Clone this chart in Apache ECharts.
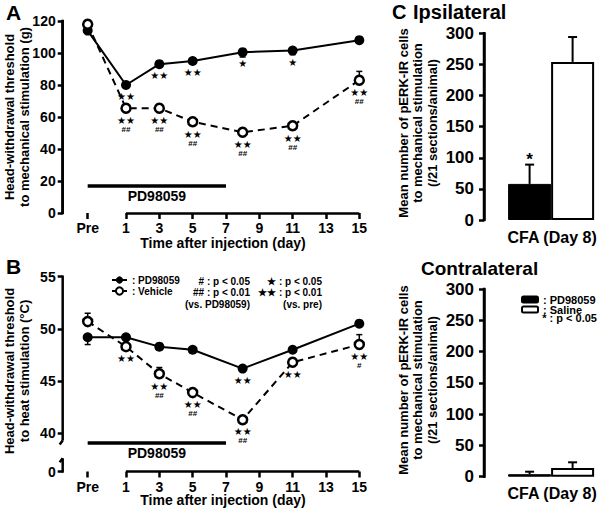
<!DOCTYPE html>
<html><head><meta charset="utf-8">
<script src="https://cdn.jsdelivr.net/npm/echarts@6/dist/echarts.min.js"></script>
<style>html,body{margin:0;padding:0;background:#fff}#c{width:600px;height:509px}</style>
</head><body><div id="c"></div>
<script>
// ---------- data ----------
const PRE = -1.3;                       // x position used for the "Pre" time point
const days = [PRE, 1, 3, 5, 8, 11, 15];
const dayTicks = [PRE, 1, 3, 5, 7, 9, 11, 13, 15];
const yAxisAt = -2.8;                   // x value where the y axis is drawn
const xMin = -3.561, xMax = 15;
const treatmentSpan = [PRE, 7];

const mechPD = [114, 80, 93, 95, 100.5, 101.5, 108];
const mechVeh = [118, 65.5, 65.5, 57, 50.5, 54.5, 83];
const mechPDErr = [1.5, 1.5, 1.5, 1.5, 3, 2.5, 1];
const mechVehErr = [1, 1.5, 1.5, 2, 1, 1, 5.5];
const mechPDSig = ['', '**', '**', '**', '*', '*', ''];
const mechVehSig = ['', '**|##', '**|##', '**|##', '**|##', '**|##', '**|##'];
const mechYTicks = [0, 20, 40, 60, 80, 100, 120];
const mechTreatLevel = 17;

const heatPD = [49.2, 49.2, 48.3, 48.0, 46.2, 48.0, 50.5];
const heatVeh = [50.7, 48.3, 45.7, 43.9, 41.3, 46.8, 48.5];
const heatPDErr = [0.7, 0.3, 0.2, 0.3, 0.3, 0.2, 0.2];
const heatVehErr = [0.8, 0.3, 0.6, 0.3, 0.3, 0.3, 0.95];
const heatPDSig = ['', '', '', '', '**', '', ''];
const heatVehSig = ['', '**', '**|##', '**|##', '**|##', '**', '**|#'];
const heatYMin = 36.34;                 // position of the "0" tick below the axis break
const heatYTicks = [heatYMin, 40, 45, 50, 55];
const heatBreak = [37.6, 39.3];
const heatTreatLevel = 39.05;

const barCats = ['CFA (Day 8)'];
const barYTicks = [0, 50, 100, 150, 200, 250, 300];
const ipsiPD = [58], ipsiPDErr = [31], ipsiPDSig = ['*'];
const ipsiSal = [254], ipsiSalErr = [40], ipsiSalSig = [''];
const contraPD = [4], contraPDErr = [4], contraPDSig = [''];
const contraSal = [14], contraSalErr = [9], contraSalSig = [''];

// ---------- helpers ----------
const FONT = 'Liberation Sans';
const chart = echarts.init(document.getElementById('c'), null, {renderer: 'svg'});

function sigFormatter(sig) {
  return p => {
    const s = sig[p.dataIndex];
    if (!s) return '';
    const parts = s.split('|');
    let out = '{s|' + parts[0].replace(/\*/g, '\u2605') + '}';
    if (parts[1]) out += '\n{h|' + parts[1] + '}';
    return out;
  };
}
const sigRich = {
  s: {fontSize: 10, lineHeight: 9, fontFamily: 'DejaVu Sans', color: '#000'},
  h: {fontSize: 8, lineHeight: 9, fontWeight: 'bold', fontFamily: FONT, color: '#000'}
};

function lineSeries(name, gi, vals, sig, open) {
  return {
    name, type: 'line', xAxisIndex: gi, yAxisIndex: gi, z: 5,
    data: days.map((d, i) => [d, vals[i]]),
    symbol: 'circle', symbolSize: open ? 9 : 10, clip: false,
    itemStyle: open ? {color: '#fff', borderColor: '#000', borderWidth: 2.5} : {color: '#000', borderColor: '#000', borderWidth: 0},
    lineStyle: open ? {color: '#000', width: 2, type: [7, 5]} : {color: '#000', width: 2},
    label: {show: true, position: 'bottom', distance: 2, formatter: sigFormatter(sig), rich: sigRich, lineHeight: 9},
    emphasis: {disabled: true}, animation: false
  };
}

function errSeries(gi, vals, errs, dir) {
  return {
    type: 'custom', xAxisIndex: gi, yAxisIndex: gi, clip: false, silent: true, z: 3,
    data: days.map((d, i) => [d, vals[i], errs[i]]),
    renderItem(params, api) {
      const x = api.value(0), y = api.value(1), e = api.value(2);
      const p0 = api.coord([x, y]), p1 = api.coord([x, y + dir * e]);
      return {type: 'group', children: [
        {type: 'line', shape: {x1: p0[0], y1: p0[1], x2: p1[0], y2: p1[1]}, style: {stroke: '#000', lineWidth: 1.5}},
        {type: 'line', shape: {x1: p1[0] - 3, y1: p1[1], x2: p1[0] + 3, y2: p1[1]}, style: {stroke: '#000', lineWidth: 1.5}}
      ]};
    }
  };
}

function decoSeries(gi, yBase, treatLevel) {
  return {
    type: 'line', xAxisIndex: gi, yAxisIndex: gi, data: [], clip: false, silent: true, z: 4,
    markLine: {
      silent: true, symbol: ['none', 'none'], animation: false,
      data: [
        [{coord: [1, yBase], lineStyle: {color: '#000', width: 2.5, type: 'solid'}, label: {show: false}},
         {coord: [xMax, yBase]}],
        [{coord: [treatmentSpan[0], treatLevel], lineStyle: {color: '#000', width: 3.5, type: 'solid'},
          label: {show: true, position: 'insideMiddleBottom', formatter: 'PD98059', distance: 3,
                  fontSize: 14, fontWeight: 'bold', fontFamily: FONT, color: '#000'}},
         {coord: [treatmentSpan[1], treatLevel]}]
      ]
    }
  };
}

function vBar(x, y1, y2) {
  return {type: 'rect', shape: {x: x - 1.25, y: Math.min(y1, y2), width: 2.5, height: Math.abs(y2 - y1)},
    style: {fill: '#000', stroke: null}};
}

// y-axis line inside the line-chart grids (broken for the heat panel), drawn as thin filled bars
function yLineSeries(gi, yLo, yHi, breakVals) {
  return {
    type: 'custom', xAxisIndex: gi, yAxisIndex: gi, z: 10, clip: false, silent: true,
    data: [[yAxisAt, yLo]],
    renderItem(params, api) {
      const pTop = api.coord([yAxisAt, yHi]), pBot = api.coord([yAxisAt, yLo]);
      const x = pTop[0];
      const st = {stroke: '#000', lineWidth: 2.5};
      if (!breakVals) {
        return {type: 'group', children: [vBar(x, pTop[1] - 1.2, pBot[1] + 1.2)]};
      }
      const yb0 = api.coord([yAxisAt, breakVals[0]])[1];
      const yb1 = api.coord([yAxisAt, breakVals[1]])[1];
      return {type: 'group', children: [
        vBar(x, pTop[1] - 1.2, yb1),
        {type: 'line', shape: {x1: x, y1: yb1, x2: x - 3, y2: yb1 + 4}, style: st},
        {type: 'line', shape: {x1: x, y1: yb0, x2: x - 3, y2: yb0 + 4}, style: st},
        vBar(x, yb0, pBot[1] + 1.2)
      ]};
    }
  };
}

// y-axis line for the bar grids, 10px inside the grid's left edge
function barYLineSeries(gi) {
  return {
    type: 'custom', xAxisIndex: gi, yAxisIndex: gi, z: 10, clip: false, silent: true,
    data: [[0, 0]],
    renderItem(params, api) {
      const cs = params.coordSys;
      const top = api.coord([0, 300])[1], bot = api.coord([0, 0])[1];
      return {type: 'group', children: [vBar(cs.x + 10, top - 1.2, bot + 1.2)]};
    }
  };
}

function barErrSeries(gi, vals, errs, sig, offset) {
  return {
    type: 'custom', xAxisIndex: gi, yAxisIndex: gi, clip: false, silent: true, z: 1,
    data: vals.map((v, i) => [i, v, errs[i]]),
    renderItem(params, api) {
      const i = api.value(0), v = api.value(1), e = api.value(2);
      const p0 = api.coord([i, v]), p1 = api.coord([i, v + e]);
      const x = p0[0] + offset;
      const ch = [
        {type: 'line', shape: {x1: x, y1: p0[1], x2: x, y2: p1[1]}, style: {stroke: '#000', lineWidth: 2}},
        {type: 'line', shape: {x1: x - 4.5, y1: p1[1], x2: x + 4.5, y2: p1[1]}, style: {stroke: '#000', lineWidth: 2}}
      ];
      if (sig[params.dataIndex]) ch.push({type: 'text', style: {text: sig[params.dataIndex], x: x, y: p1[1] + 3,
        align: 'center', verticalAlign: 'bottom', font: 'bold 17px ' + FONT, fill: '#000'}});
      return {type: 'group', children: ch};
    }
  };
}

function lineXAxis(gi) {
  return {
    gridIndex: gi, type: 'value', min: xMin, max: xMax,
    axisLine: {show: false, onZero: false}, splitLine: {show: false},
    axisTick: {show: true, customValues: dayTicks, length: 6, inside: false, lineStyle: {color: '#000', width: 2.5}},
    axisLabel: {customValues: dayTicks, margin: 8, fontSize: 14, fontWeight: 'bold', fontFamily: FONT, color: '#000',
      formatter: v => (v < 0 ? 'Pre' : String(Math.round(v)))}
  };
}

function barXAxis(gi) {
  return {gridIndex: gi, type: 'category', data: barCats, axisLine: {show: false, onZero: false}, axisTick: {show: false},
    splitLine: {show: false},
    axisLabel: {margin: 9, fontSize: 16, fontWeight: 'bold', fontFamily: FONT, color: '#000', padding: [0, 0, 0, 32]}};
}

function yAxisDef(gi, extra) {
  return Object.assign({
    gridIndex: gi, type: 'value', splitLine: {show: false},
    axisLine: {show: true, onZero: false, lineStyle: {color: '#000', width: 2.5}},
    axisTick: {show: true, length: 5, lineStyle: {color: '#000', width: 2.5}}
  }, extra);
}

function spacer(gi) {
  return {type: 'bar', xAxisIndex: gi, yAxisIndex: gi, data: [0], barWidth: 30, barGap: '0%', silent: true,
    itemStyle: {color: 'rgba(0,0,0,0)', borderWidth: 0}, label: {show: false}};
}

const option = {
  animation: false,
  textStyle: {fontFamily: FONT, fontWeight: 'bold', color: '#000'},
  title: [
    {text: 'A', left: 6, top: 2, padding: 0, textStyle: {fontSize: 21, fontWeight: 'bold', fontFamily: FONT, color: '#000'}},
    {text: 'B', left: 6, top: 256, padding: 0, textStyle: {fontSize: 21, fontWeight: 'bold', fontFamily: FONT, color: '#000'}},
    {text: 'C', left: 392, top: 2, padding: 0, textStyle: {fontSize: 20, fontWeight: 'bold', fontFamily: FONT, color: '#000'}},
    {text: 'Ipsilateral', left: 413, top: 2, padding: 0, textStyle: {fontSize: 20, fontWeight: 'bold', fontFamily: FONT, color: '#000'}},
    {text: 'Contralateral', left: 421, top: 259, padding: 0, textStyle: {fontSize: 19, fontWeight: 'bold', fontFamily: FONT, color: '#000'}}
  ],
  grid: [
    {left: 50, top: 21, width: 309.3, height: 192},
    {left: 50, top: 276.7, width: 309.3, height: 194.8},
    {left: 474, top: 33.3, right: 0, height: 186.7},
    {left: 474, top: 289, right: 0, height: 187.7}
  ],
  xAxis: [lineXAxis(0), lineXAxis(1), barXAxis(2), barXAxis(3)],
  yAxis: [
    yAxisDef(0, {min: 0, max: 120, interval: 20, offset: -12.7,
      axisLabel: {margin: 7, fontSize: 14, fontWeight: 'bold', fontFamily: FONT, color: '#000'}}),
    yAxisDef(1, {min: heatYMin, max: 55, offset: -12.7,
      axisLine: {show: false, onZero: false},
      axisTick: {show: true, customValues: heatYTicks, length: 5, lineStyle: {color: '#000', width: 2.5}},
      axisLabel: {customValues: heatYTicks, margin: 7, fontSize: 14, fontWeight: 'bold', fontFamily: FONT, color: '#000',
        formatter: v => (v < 38 ? '0' : String(Math.round(v)))}}),
    yAxisDef(2, {min: 0, max: 300, interval: 50, offset: -10,
      axisLabel: {margin: 10, fontSize: 17, fontWeight: 'bold', fontFamily: FONT, color: '#000'}}),
    yAxisDef(3, {min: 0, max: 300, interval: 50, offset: -10,
      axisLabel: {margin: 10, fontSize: 17, fontWeight: 'bold', fontFamily: FONT, color: '#000'}})
  ],
  legend: [
    {data: ['PD98059', 'Vehicle'], orient: 'vertical', left: 111, top: 275, padding: 0,
     itemWidth: 15, itemHeight: 9, itemGap: 1, selectedMode: false,
     formatter: n => ': ' + n,
     textStyle: {fontSize: 10, fontWeight: 'bold', fontFamily: FONT, color: '#000', lineHeight: 10}},
    {data: ['PD98059 bar', 'Saline'], orient: 'vertical', left: 521, top: 294, padding: 0,
     itemWidth: 16, itemHeight: 6, itemGap: -1, selectedMode: false,
     formatter: n => ': ' + n.replace(' bar', ''),
     textStyle: {fontSize: 11, fontWeight: 'bold', fontFamily: FONT, color: '#000', lineHeight: 9}}
  ],
  graphic: [
    {type: 'text', x: 17, y: 117, rotation: Math.PI / 2,
     style: {text: 'Head-withdrawal threshold\nto mechanical stimulation (g)', font: 'bold 13px ' + FONT,
       align: 'center', verticalAlign: 'middle', lineHeight: 15, fill: '#000'}},
    {type: 'text', x: 17, y: 371, rotation: Math.PI / 2,
     style: {text: 'Head-withdrawal threshold\nto heat stimulation (\u00b0C)', font: 'bold 13px ' + FONT,
       align: 'center', verticalAlign: 'middle', lineHeight: 15, fill: '#000'}},
    {type: 'text', x: 417.5, y: 123, rotation: Math.PI / 2,
     style: {text: 'Mean number of pERK-IR cells\nto mechanical stimulation\n(/21 sections/animal)', font: 'bold 13px ' + FONT,
       align: 'center', verticalAlign: 'middle', lineHeight: 14.5, fill: '#000'}},
    {type: 'text', x: 417.5, y: 380, rotation: Math.PI / 2,
     style: {text: 'Mean number of pERK-IR cells\nto mechanical stimulation\n(/21 sections/animal)', font: 'bold 13px ' + FONT,
       align: 'center', verticalAlign: 'middle', lineHeight: 14.5, fill: '#000'}},
    {type: 'text', x: 223, y: 243,
     style: {text: 'Time after injection (day)', font: 'bold 14px ' + FONT, align: 'center', verticalAlign: 'middle', fill: '#000'}},
    {type: 'text', x: 223, y: 500,
     style: {text: 'Time after injection (day)', font: 'bold 14px ' + FONT, align: 'center', verticalAlign: 'middle', fill: '#000'}},
    {type: 'text', x: 250, y: 292.5,
     style: {text: '# : p < 0.05\n## : p < 0.01\n(vs. PD98059)', font: 'bold 10px ' + FONT,
       align: 'right', verticalAlign: 'middle', lineHeight: 11.5, fill: '#000'}},
    {type: 'text', x: 322, y: 292.5,
     style: {text: '\u2605 : p < 0.05\n\u2605\u2605 : p < 0.01\n(vs. pre)', font: 'bold 10px ' + FONT,
       align: 'right', verticalAlign: 'middle', lineHeight: 11.5, fill: '#000'}},
    {type: 'text', x: 597, y: 318,
     style: {text: '* : p < 0.05', font: 'bold 11px ' + FONT, align: 'right', verticalAlign: 'middle', fill: '#000'}}
  ],
  series: [
    yLineSeries(0, 0, 120, null),
    decoSeries(0, 0, mechTreatLevel),
    errSeries(0, mechPD, mechPDErr, -1),
    errSeries(0, mechVeh, mechVehErr, 1),
    lineSeries('PD98059 mech', 0, mechPD, mechPDSig, false),
    lineSeries('Vehicle mech', 0, mechVeh, mechVehSig, true),

    yLineSeries(1, heatYMin, 55, heatBreak),
    decoSeries(1, heatYMin, heatTreatLevel),
    errSeries(1, heatPD, heatPDErr, -1),
    errSeries(1, heatVeh, heatVehErr, 1),
    lineSeries('PD98059', 1, heatPD, heatPDSig, false),
    lineSeries('Vehicle', 1, heatVeh, heatVehSig, true),

    barYLineSeries(2),
    spacer(2),
    {name: 'PD98059 ipsi', type: 'bar', xAxisIndex: 2, yAxisIndex: 2, data: ipsiPD, barWidth: 43, barGap: '0%', z: 2,
     itemStyle: {color: '#000', borderColor: '#000', borderWidth: 1}},
    {name: 'Saline ipsi', type: 'bar', xAxisIndex: 2, yAxisIndex: 2, data: ipsiSal, barWidth: 43, barGap: '0%', z: 2,
     itemStyle: {color: '#fff', borderColor: '#000', borderWidth: 2}},
    barErrSeries(2, ipsiPD, ipsiPDErr, ipsiPDSig, -6.5),
    barErrSeries(2, ipsiSal, ipsiSalErr, ipsiSalSig, 36.5),

    barYLineSeries(3),
    spacer(3),
    {name: 'PD98059 bar', type: 'bar', xAxisIndex: 3, yAxisIndex: 3, data: contraPD, barWidth: 43, barGap: '0%', z: 2,
     itemStyle: {color: '#000', borderColor: '#000', borderWidth: 1}},
    {name: 'Saline', type: 'bar', xAxisIndex: 3, yAxisIndex: 3, data: contraSal, barWidth: 43, barGap: '0%', z: 2,
     itemStyle: {color: '#fff', borderColor: '#000', borderWidth: 2}},
    barErrSeries(3, contraPD, contraPDErr, contraPDSig, -6.5),
    barErrSeries(3, contraSal, contraSalErr, contraSalSig, 36.5)
  ]
};
chart.setOption(option);
</script>
</body></html>
